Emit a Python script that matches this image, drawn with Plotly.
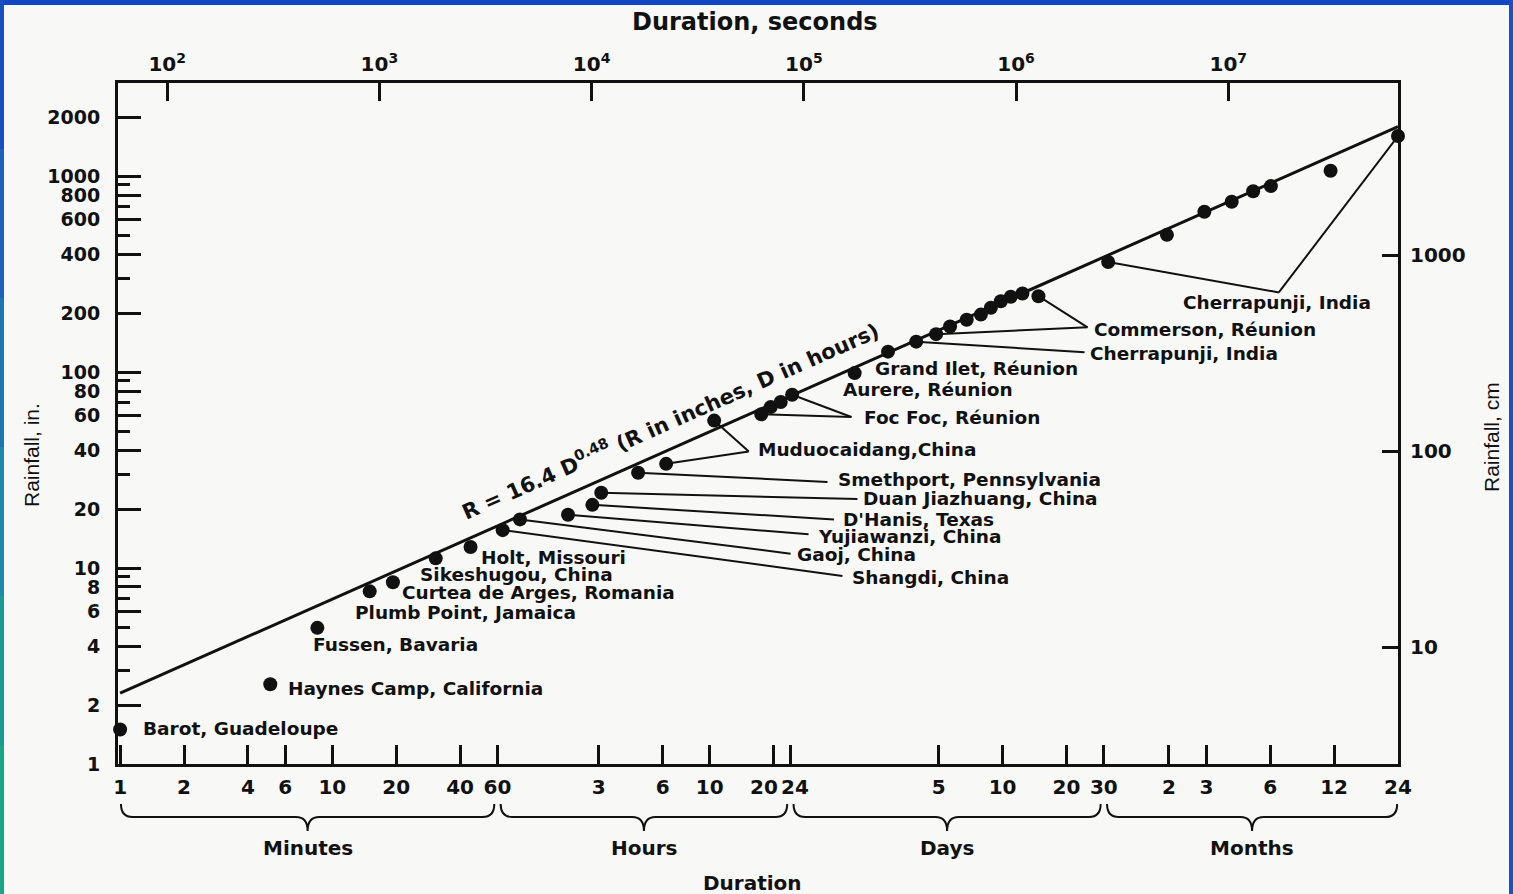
import math
import plotly.graph_objects as go

# ---------------- data ----------------
# World record point rainfalls: duration in minutes, depth in inches
duration_min = [1, 5.1, 8.5, 15, 19.3, 30.7, 44.8, 63.5, 76.6, 129, 168, 185, 276,
                374, 630, 1050, 1163, 1297, 1468, 2893, 4154, 5640, 7000, 8146,
                9754, 11380, 12680, 14130, 15740, 17860, 21250, 45290, 85700,
                128600, 173000, 218400, 264600, 505800, 1051200]
rain_in = [1.5, 2.55, 4.95, 7.6, 8.46, 11.2, 12.8, 15.6, 17.7, 18.7, 21.0, 24.2, 30.6,
           34.0, 56.5, 60.9, 66.2, 70.3, 76.6, 98.7, 127, 142.8, 156, 170.6,
           184.9, 196.3, 212.6, 229.6, 242, 251.7, 243.6, 364, 501,
           657.6, 738.6, 835.6, 887.9, 1064, 1600]

# Envelope curve R = a * D^b  (R in inches, D in hours)
ENV_COEF = 16.4
ENV_EXP = 0.48

# Station labels: text, label position (minutes, inches), x-anchor,
# leader-line target (minutes, inches) and the points it connects
label_text = ["Barot, Guadeloupe", "Haynes Camp, California", "Fussen, Bavaria",
              "Plumb Point, Jamaica", "Curtea de Arges, Romania", "Sikeshugou, China",
              "Holt, Missouri", "Shangdi, China", "Gaoj, China", "Yujiawanzi, China",
              "D'Hanis, Texas", "Duan Jiazhuang, China", "Smethport, Pennsylvania",
              "Muduocaidang,China", "Foc Foc, Réunion", "Aurere, Réunion",
              "Grand Ilet, Réunion", "Commerson, Réunion", "Cherrapunji, India",
              "Cherrapunji, India"]
label_x = [1.25, 6.02, 7.97, 12.55, 20.86, 25.3, 49.0, 2763, 1508, 1892, 2506, 3112,
           2374, 989, 3146, 2506, 3543, 37810, 36210, 282300]
label_y = [1.51, 2.44, 4.09, 5.95, 7.49, 9.25, 11.38, 8.99, 11.69, 14.42, 17.78, 22.73,
           28.13, 40.2, 58.9, 81.9, 104.6, 165, 124.5, 226.5]
label_anchor = ["left"] * 19 + ["center"]
leader_x = [None, None, None, None, None, None, None, 2534, 1444, 1754, 2311, 2981,
            2154, 917, 2793, None, None, 36210, 35050, 288500]
leader_y = [None, None, None, None, None, None, None, 9.11, 11.83, 14.85, 17.69, 22.47,
            27.49, 39.3, 58.9, None, None, 169, 126, 254.7]
leader_points = [[], [], [], [], [], [], [], [7], [8], [9], [10], [11],
                 [12], [13, 14], [15, 18], [], [], [22, 30], [21], [31, 38]]

# Duration axis (minutes) ticks, grouped minutes / hours / days / months
dur_tickvals = [1, 2, 4, 6, 10, 20, 40, 60, 180, 360, 600, 1200, 1440,
                7200, 14400, 28800, 43200, 87600, 131400, 262800, 525600, 1051200]
dur_ticktext = ["1", "2", "4", "6", "10", "20", "40", "60", "3", "6", "10",
                "20", "24", "5", "10", "20", "30", "2", "3", "6", "12", "24"]
# crowded neighbours (20 h, 24 h) are written as nudged labels
dur_nudged = {1200: -10, 1440: 5}
brace_bounds = [1, 60, 1440, 43200, 1051200]
brace_names = ["Minutes", "Hours", "Days", "Months"]

sec_tickvals = [1e2, 1e3, 1e4, 1e5, 1e6, 1e7]
sec_ticktext = ["10<sup>2</sup>", "10<sup>3</sup>", "10<sup>4</sup>",
                "10<sup>5</sup>", "10<sup>6</sup>", "10<sup>7</sup>"]

in_tickvals = [1, 2, 4, 6, 8, 10, 20, 40, 60, 80, 100, 200, 400, 600, 800, 1000, 2000]
in_minorvals = [3, 5, 7, 9, 30, 50, 70, 90, 300, 500, 700, 900]
cm_tickvals = [10, 100, 1000]

# ---------------- layout geometry ----------------
W, H = 1513, 894
ML, MR, MT, MB = 118, 115, 83, 130
PW, PH = W - ML - MR, H - MT - MB
X_RANGE = [-0.01, math.log10(1051200)]
Y_RANGE = [0.0, 3.4745]
FONT = "DejaVu Sans"
INK = "#111111"
BG = "#f8f8f6"


def px_paper_x(px):
    return (px - ML) / PW


def px_paper_y(py):
    return (H - MB - py) / PH


fig = go.Figure()

# envelope line
env_x = [brace_bounds[0], brace_bounds[-1]]
env_y = [ENV_COEF * (d / 60.0) ** ENV_EXP for d in env_x]
fig.add_trace(go.Scatter(x=env_x, y=env_y, mode="lines",
                         line=dict(color=INK, width=3), hoverinfo="skip",
                         showlegend=False))

# leader lines from points to their labels
lx, ly = [], []
for pts, tx, ty in zip(leader_points, leader_x, leader_y):
    for i in pts:
        lx += [duration_min[i], tx, None]
        ly += [rain_in[i], ty, None]
fig.add_trace(go.Scatter(x=lx, y=ly, mode="lines", line=dict(color=INK, width=2),
                         hoverinfo="skip", showlegend=False))

# record points
fig.add_trace(go.Scatter(x=duration_min, y=rain_in, mode="markers",
                         marker=dict(color=INK, size=14), cliponaxis=False,
                         showlegend=False))

# carriers for the seconds and centimetre axes
fig.add_trace(go.Scatter(x=[1e4], y=[10], xaxis="x2", yaxis="y", mode="markers",
                         marker=dict(opacity=0), hoverinfo="skip", showlegend=False))
fig.add_trace(go.Scatter(x=[100], y=[100], xaxis="x", yaxis="y2", mode="markers",
                         marker=dict(opacity=0), hoverinfo="skip", showlegend=False))

tickfont = dict(family=FONT, size=20, color=INK, weight="bold")
yfont = dict(family=FONT, size=19, color=INK, weight="bold")

bottom_text = [" " if v in dur_nudged else t for v, t in zip(dur_tickvals, dur_ticktext)]

fig.update_layout(
    width=W, height=H,
    margin=dict(l=ML, r=MR, t=MT, b=MB, pad=0),
    paper_bgcolor=BG, plot_bgcolor=BG,
    font=dict(family=FONT, color=INK),
    hovermode=False,
    xaxis=dict(type="log", range=X_RANGE, tickmode="array", tickvals=dur_tickvals,
               ticktext=bottom_text, tickangle=0, ticks="inside", ticklen=19,
               tickwidth=2.5, tickcolor=INK, showline=True, linewidth=3,
               linecolor=INK, showgrid=False, zeroline=False, tickfont=tickfont,
               ticklabelstandoff=3),
    xaxis2=dict(type="log", overlaying="x", side="top", anchor="y",
                range=[X_RANGE[0] + math.log10(60), X_RANGE[1] + math.log10(60)],
                tickmode="array", tickvals=sec_tickvals, ticktext=sec_ticktext,
                tickangle=0, ticks="inside", ticklen=18, tickwidth=3, tickcolor=INK,
                showline=True, linewidth=3, linecolor=INK, showgrid=False,
                zeroline=False, tickfont=tickfont, ticklabelstandoff=1),
    yaxis=dict(type="log", range=Y_RANGE, tickmode="array", tickvals=in_tickvals,
               ticks="inside", ticklen=23, tickwidth=2.5, tickcolor=INK,
               minor=dict(tickmode="array", tickvals=in_minorvals, ticks="inside",
                          ticklen=12, tickwidth=2.5, tickcolor=INK, showgrid=False),
               showline=True, linewidth=3, linecolor=INK, showgrid=False,
               zeroline=False, tickfont=yfont, ticklabelstandoff=11),
    yaxis2=dict(type="log", overlaying="y", side="right", anchor="x",
                range=[Y_RANGE[0] + math.log10(2.54), Y_RANGE[1] + math.log10(2.54)],
                tickmode="array", tickvals=cm_tickvals, ticks="inside", ticklen=16,
                tickwidth=2.5, tickcolor=INK, showline=True, linewidth=3,
                linecolor=INK, showgrid=False, zeroline=False, tickfont=tickfont,
                ticklabelstandoff=5),
)

annotations = []
# station labels
for t, x, y, a in zip(label_text, label_x, label_y, label_anchor):
    annotations.append(dict(text=t, x=math.log10(x), y=math.log10(y), xref="x",
                            yref="y", xanchor=a, yanchor="middle", showarrow=False,
                            font=dict(family=FONT, size=18.5, color=INK, weight="bold")))

# nudged tick labels for the crowded 20 h / 24 h ticks
for v, t in zip(dur_tickvals, dur_ticktext):
    if v in dur_nudged:
        annotations.append(dict(text=t, x=math.log10(v), y=px_paper_y(787), xref="x",
                                yref="paper", xshift=dur_nudged[v], showarrow=False,
                                xanchor="center", yanchor="middle",
                                font=dict(family=FONT, size=20, color=INK,
                                          weight="bold")))

# envelope equation written along the line
eq_d = 440.0
eq_r = ENV_COEF * (eq_d / 60.0) ** ENV_EXP
slope_px = ENV_EXP * (PH / (Y_RANGE[1] - Y_RANGE[0])) / (PW / (X_RANGE[1] - X_RANGE[0]))
ang = math.degrees(math.atan(slope_px))
off = 27
annotations.append(dict(
    text=f"R = {ENV_COEF} D<sup>{ENV_EXP}</sup> (R in inches, D in hours)",
    x=math.log10(eq_d), y=math.log10(eq_r), xref="x", yref="y",
    xshift=-off * math.sin(math.radians(ang)), yshift=off * math.cos(math.radians(ang)),
    textangle=-ang, showarrow=False, xanchor="center", yanchor="middle",
    font=dict(family=FONT, size=21, color=INK, weight="bold")))

# axis titles
annotations += [
    dict(text="Duration, seconds", x=px_paper_x(755), y=px_paper_y(22), xref="paper",
         yref="paper", showarrow=False, xanchor="center", yanchor="middle",
         font=dict(family=FONT, size=24, color=INK, weight="bold")),
    dict(text="Duration", x=px_paper_x(752), y=px_paper_y(883), xref="paper",
         yref="paper", showarrow=False, xanchor="center", yanchor="middle",
         font=dict(family=FONT, size=20, color=INK, weight="bold")),
    dict(text="Rainfall, in.", x=px_paper_x(31), y=px_paper_y(455), xref="paper",
         yref="paper", showarrow=False, textangle=-90, xanchor="center",
         yanchor="middle", font=dict(family="Liberation Sans", size=21, color=INK)),
    dict(text="Rainfall, cm", x=px_paper_x(1491), y=px_paper_y(437), xref="paper",
         yref="paper", showarrow=False, textangle=-90, xanchor="center",
         yanchor="middle", font=dict(family="Liberation Sans", size=21, color=INK)),
]

# braces under the duration axis
shapes = []
y_tip, y_bar, y_pt = px_paper_y(804), px_paper_y(817), px_paper_y(831)
r = 0.055
for k, name in enumerate(brace_names):
    u0 = math.log10(brace_bounds[k]) + (0.004 if k == 0 else 0.015)
    u1 = math.log10(brace_bounds[k + 1]) - (0.004 if k == 3 else 0.015)
    um = 0.5 * (u0 + u1)

    def X(u):
        return f"{10 ** u:.5f}"

    path = (f"M {X(u0)},{y_tip:.5f} Q {X(u0)},{y_bar:.5f} {X(u0 + r)},{y_bar:.5f} "
            f"L {X(um - r)},{y_bar:.5f} Q {X(um)},{y_bar:.5f} {X(um)},{y_pt:.5f} "
            f"Q {X(um)},{y_bar:.5f} {X(um + r)},{y_bar:.5f} "
            f"L {X(u1 - r)},{y_bar:.5f} Q {X(u1)},{y_bar:.5f} {X(u1)},{y_tip:.5f}")
    shapes.append(dict(type="path", path=path, xref="x", yref="paper",
                       line=dict(color=INK, width=2)))
    annotations.append(dict(text=name, x=um, y=px_paper_y(848), xref="x", yref="paper",
                            showarrow=False, xanchor="center", yanchor="middle",
                            font=dict(family=FONT, size=20, color=INK, weight="bold")))

# slide frame: blue band on top, coloured strips at the sides
shapes.append(dict(type="rect", xref="paper", yref="paper", x0=px_paper_x(0),
                   x1=px_paper_x(W), y0=px_paper_y(5), y1=px_paper_y(0),
                   fillcolor="#1148c2", line=dict(width=0)))
strip_cols = ["#1a4fc4", "#1b62bd", "#1b77b3", "#1a8ca5", "#199c94", "#18a784"]
n = len(strip_cols)
for i, c in enumerate(strip_cols):
    shapes.append(dict(type="rect", xref="paper", yref="paper", x0=px_paper_x(0),
                       x1=px_paper_x(4), y0=px_paper_y(H * (i + 1) / n),
                       y1=px_paper_y(H * i / n), fillcolor=c, line=dict(width=0)))
shapes.append(dict(type="rect", xref="paper", yref="paper", x0=px_paper_x(W - 4),
                   x1=px_paper_x(W), y0=px_paper_y(H), y1=px_paper_y(0),
                   fillcolor="#1652c6", line=dict(width=0)))

fig.update_layout(annotations=annotations, shapes=shapes)
fig.write_html("out.html")
